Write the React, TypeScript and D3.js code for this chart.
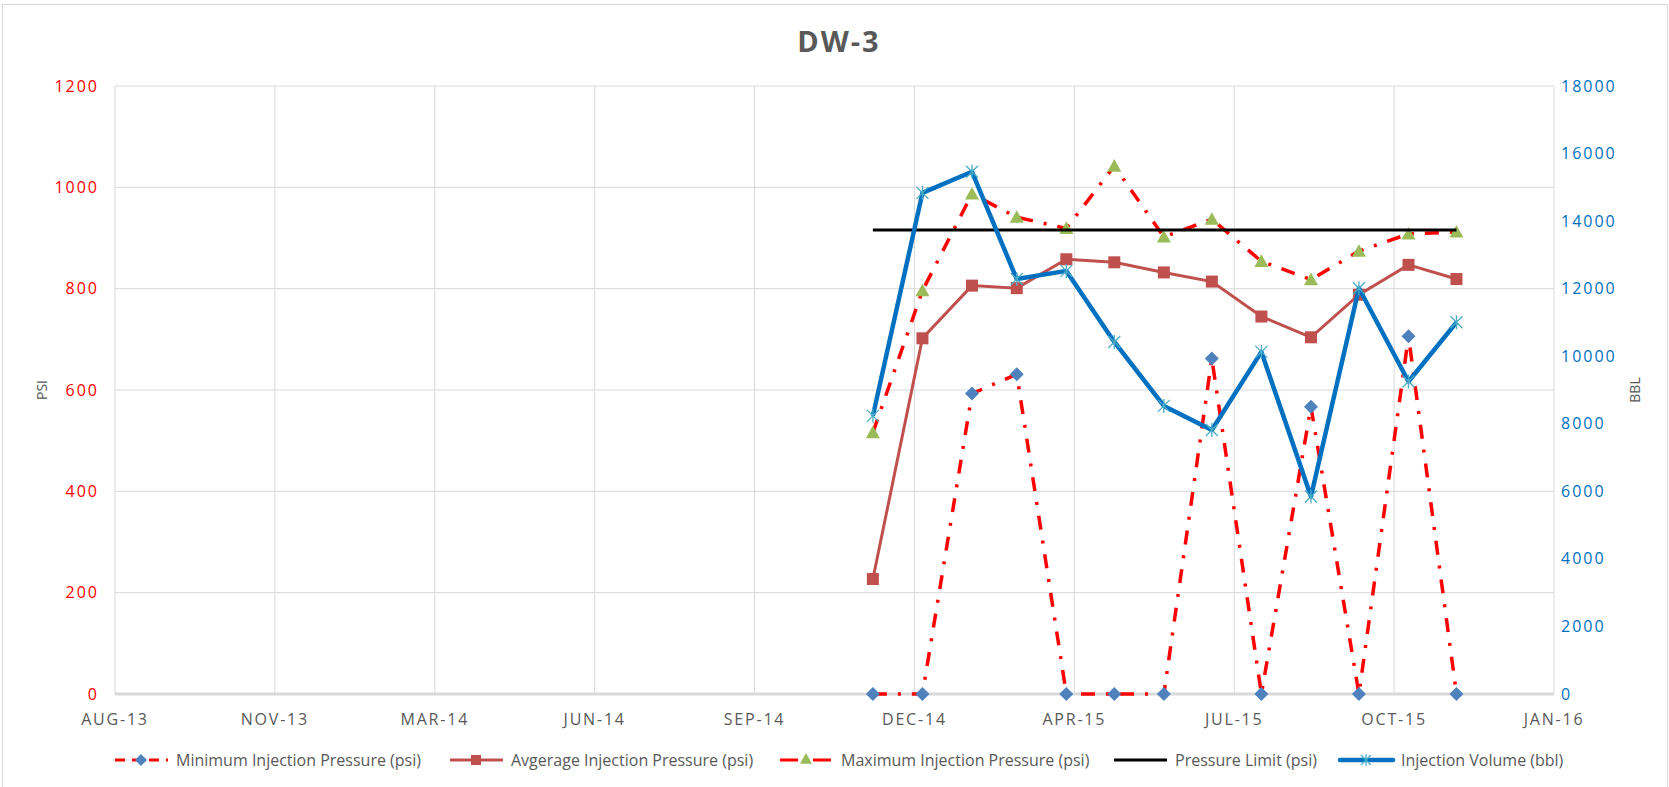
import React from "react";
import * as d3 from "d3";

// monthly readings (end of month)
const monthDates = [
  "2014-11-30", "2014-12-31", "2015-01-31", "2015-02-28", "2015-03-31", "2015-04-30",
  "2015-05-31", "2015-06-30", "2015-07-31", "2015-08-31", "2015-09-30", "2015-10-31", "2015-11-30",
];
const minPressure = [0, 0, 593, 631, 0, 0, 0, 662, 0, 567, 0, 706, 0];
const avgPressure = [227, 702, 806, 801, 858, 852, 832, 814, 745, 704, 788, 847, 819];
const maxPressure = [516, 796, 987, 941, 919, 1042, 902, 937, 854, 818, 874, 908, 912];
const pressureLimit = [916, 916, 916, 916, 916, 916, 916, 916, 916, 916, 916, 916, 916];
const injectionVolume = [8234, 14836, 15460, 12285, 12526, 10423, 8529, 7818, 10128, 5847, 12011, 9252, 11004];

const xTickLabels = ["AUG-13", "NOV-13", "MAR-14", "JUN-14", "SEP-14", "DEC-14", "APR-15", "JUL-15", "OCT-15", "JAN-16"];
const xAxisStart = "2013-08-13"; // excel date axis, major unit 100 days
const psiTicks = [0, 200, 400, 600, 800, 1000, 1200];
const bblTicks = [0, 2000, 4000, 6000, 8000, 10000, 12000, 14000, 16000, 18000];
const legendLabels = [
  "Minimum Injection Pressure (psi)",
  "Avgerage Injection Pressure (psi)",
  "Maximum Injection Pressure (psi)",
  "Pressure Limit (psi)",
  "Injection Volume (bbl)",
];

const W = 1669;
const H = 787;
const plot = { left: 115, right: 1554, top: 86, bottom: 694 };
const font = "'Open Sans', sans-serif";
const grey = "#595959";
const gridColor = "#D9D9D9";
const dashDot = "14,11,3,11";

const diamond = (s: number) => `M0,${-s}L${s},0L0,${s}L${-s},0Z`;
const triangle = (s: number) => `M0,${-s}L${s},${s * 0.8}L${-s},${s * 0.8}Z`;
const star = (s: number) => `M${-s},${-s}L${s},${s}M${-s},${s}L${s},${-s}M0,${-s - 1}L0,${s + 1}`;

export default function App() {
  const parse = d3.timeParse("%Y-%m-%d");
  const dates = monthDates.map((d) => parse(d) as Date);
  const start = parse(xAxisStart) as Date;
  const tickDates = xTickLabels.map((_, i) => d3.timeDay.offset(start, i * 100));

  const x = d3.scaleTime().domain([tickDates[0], tickDates[tickDates.length - 1]]).range([plot.left, plot.right]);
  const yL = d3.scaleLinear().domain([0, 1200]).range([plot.bottom, plot.top]);
  const yR = d3.scaleLinear().domain([0, 18000]).range([plot.bottom, plot.top]);

  const lineL = d3.line<number>().x((_, i) => x(dates[i])).y((d) => yL(d));
  const lineR = d3.line<number>().x((_, i) => x(dates[i])).y((d) => yR(d));

  const legendX = [115, 450, 780, 1114, 1340];
  const legendY = 760;

  return (
    <svg width={W} height={H} style={{ position: "absolute", left: 0, top: 0 }} fontFamily={font}>
      <rect x={0} y={0} width={W} height={H} fill="#fff" />
      <rect x={2.5} y={4.5} width={W - 4} height={H + 10} fill="none" stroke={gridColor} />

      <text x={839} y={52} textAnchor="middle" fontSize={29} fontWeight="bold" fill={grey} letterSpacing={2}>
        DW-3
      </text>

      {/* grid */}
      {psiTicks.slice(1).map((t) => (
        <line key={"h" + t} x1={plot.left} x2={plot.right} y1={yL(t)} y2={yL(t)} stroke={gridColor} />
      ))}
      {tickDates.map((d, i) => (
        <line key={"v" + i} x1={x(d)} x2={x(d)} y1={plot.top} y2={plot.bottom} stroke={gridColor} />
      ))}
      <line x1={plot.left} x2={plot.right} y1={plot.bottom} y2={plot.bottom} stroke={gridColor} strokeWidth={3} />

      {/* axes labels */}
      {psiTicks.map((t) => (
        <text key={"l" + t} x={99} y={yL(t)} dy="0.35em" textAnchor="end" fontSize={16} fill="#FF0000" letterSpacing={2}>
          {t}
        </text>
      ))}
      {bblTicks.map((t) => (
        <text key={"r" + t} x={1561} y={yR(t)} dy="0.35em" textAnchor="start" fontSize={16} fill="#0070C0" letterSpacing={2}>
          {t}
        </text>
      ))}
      {tickDates.map((d, i) => (
        <text key={"x" + i} x={x(d)} y={725} textAnchor="middle" fontSize={16} fill={grey} letterSpacing={1.8}>
          {xTickLabels[i]}
        </text>
      ))}
      <text transform="translate(47,390) rotate(-90)" textAnchor="middle" fontSize={14} fill={grey}>
        PSI
      </text>
      <text transform="translate(1640,390) rotate(-90)" textAnchor="middle" fontSize={14} fill={grey}>
        BBL
      </text>

      {/* min pressure */}
      <path d={lineL(minPressure) || ""} fill="none" stroke="#FF0000" strokeWidth={3.5} strokeDasharray={dashDot} />
      {minPressure.map((v, i) => (
        <path key={"mn" + i} d={diamond(7)} transform={`translate(${x(dates[i])},${yL(v)})`} fill="#4F81BD" />
      ))}

      {/* avg pressure */}
      <path d={lineL(avgPressure) || ""} fill="none" stroke="#C0504D" strokeWidth={3} />
      {avgPressure.map((v, i) => (
        <rect key={"av" + i} x={x(dates[i]) - 6} y={yL(v) - 6} width={12} height={12} fill="#C0504D" />
      ))}

      {/* max pressure */}
      <path d={lineL(maxPressure) || ""} fill="none" stroke="#FF0000" strokeWidth={3.5} strokeDasharray={dashDot} />
      {maxPressure.map((v, i) => (
        <path key={"mx" + i} d={triangle(7)} transform={`translate(${x(dates[i])},${yL(v)})`} fill="#9BBB59" />
      ))}

      {/* limit */}
      <path d={lineL(pressureLimit) || ""} fill="none" stroke="#000" strokeWidth={3} />

      {/* volume */}
      <path d={lineR(injectionVolume) || ""} fill="none" stroke="#0070C0" strokeWidth={4.5} strokeLinejoin="round" />
      {injectionVolume.map((v, i) => (
        <path key={"vo" + i} d={star(6)} transform={`translate(${x(dates[i])},${yR(v)})`} fill="none" stroke="#4BACC6" strokeWidth={1.3} />
      ))}

      {/* legend */}
      <g fontSize={16} fill={grey}>
        <line x1={legendX[0]} x2={legendX[0] + 53} y1={legendY} y2={legendY} stroke="#FF0000" strokeWidth={3} strokeDasharray="10,7" />
        <path d={diamond(6)} transform={`translate(${legendX[0] + 26},${legendY})`} fill="#4F81BD" />
        <line x1={legendX[1]} x2={legendX[1] + 53} y1={legendY} y2={legendY} stroke="#C0504D" strokeWidth={3} />
        <rect x={legendX[1] + 21} y={legendY - 5} width={10} height={10} fill="#C0504D" />
        <line x1={legendX[2]} x2={legendX[2] + 53} y1={legendY} y2={legendY} stroke="#FF0000" strokeWidth={3} strokeDasharray="18,6,3,6" />
        <path d={triangle(6)} transform={`translate(${legendX[2] + 26},${legendY - 1})`} fill="#9BBB59" />
        <line x1={legendX[3]} x2={legendX[3] + 53} y1={legendY} y2={legendY} stroke="#000" strokeWidth={3} />
        <line x1={legendX[4]} x2={legendX[4] + 53} y1={legendY} y2={legendY} stroke="#0070C0" strokeWidth={4.5} strokeLinecap="round" />
        <path d={star(5)} transform={`translate(${legendX[4] + 26},${legendY})`} fill="none" stroke="#4BACC6" strokeWidth={1.2} />
        {legendLabels.map((l, i) => (
          <text key={l} x={legendX[i] + 61} y={legendY} dy="0.35em">
            {l}
          </text>
        ))}
      </g>
    </svg>
  );
}
